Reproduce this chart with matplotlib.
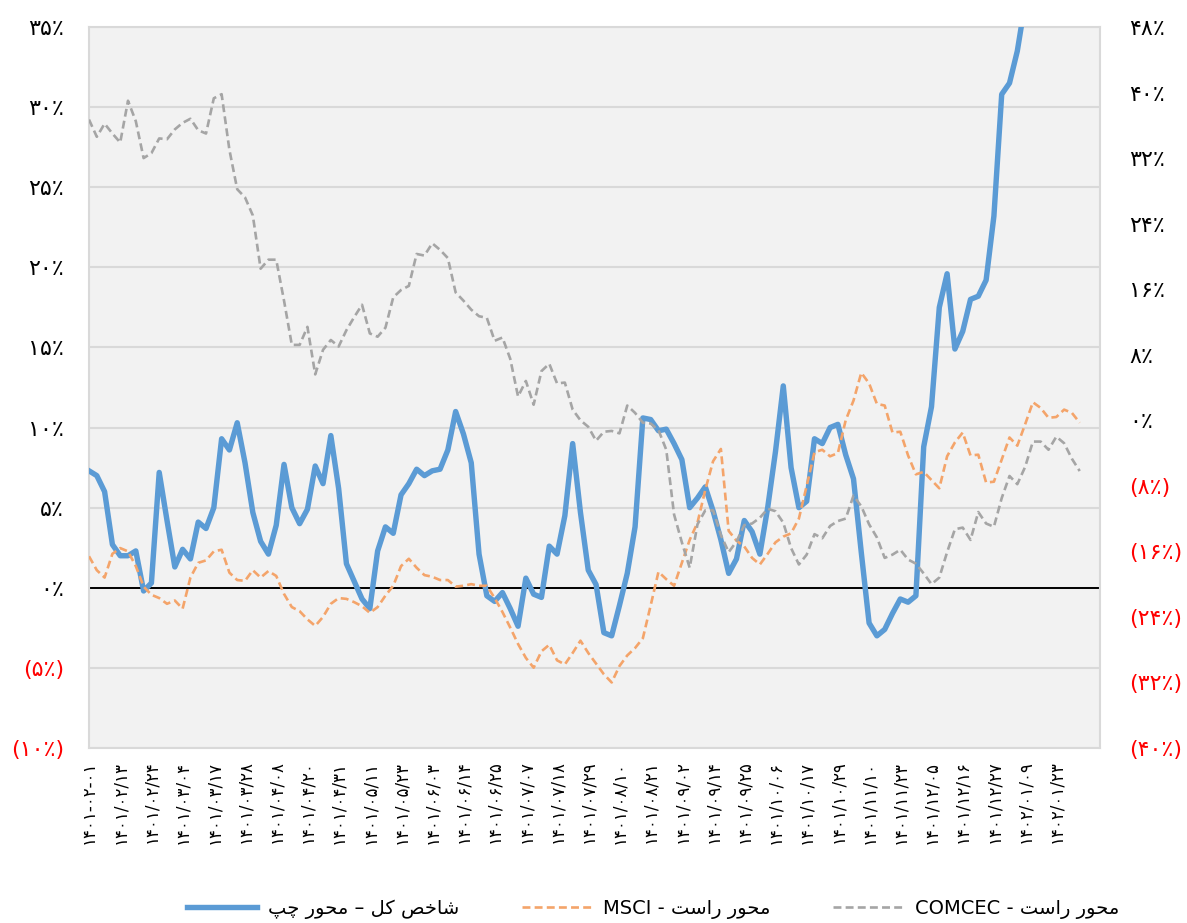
import matplotlib
matplotlib.use('Agg')
import matplotlib.pyplot as plt
from matplotlib.lines import Line2D

# ---------------- DATA ----------------
date_labels = ['۱۴۰۱-۰۲-۰۱', '۱۴۰۱/۰۲/۱۳', '۱۴۰۱/۰۲/۲۴', '۱۴۰۱/۰۳/۰۴', '۱۴۰۱/۰۳/۱۷',
               '۱۴۰۱/۰۳/۲۸', '۱۴۰۱/۰۴/۰۸', '۱۴۰۱/۰۴/۲۰', '۱۴۰۱/۰۴/۳۱', '۱۴۰۱/۰۵/۱۱',
               '۱۴۰۱/۰۵/۲۳', '۱۴۰۱/۰۶/۰۳', '۱۴۰۱/۰۶/۱۴', '۱۴۰۱/۰۶/۲۵', '۱۴۰۱/۰۷/۰۷',
               '۱۴۰۱/۰۷/۱۸', '۱۴۰۱/۰۷/۲۹', '۱۴۰۱/۰۸/۱۰', '۱۴۰۱/۰۸/۲۱', '۱۴۰۱/۰۹/۰۲',
               '۱۴۰۱/۰۹/۱۴', '۱۴۰۱/۰۹/۲۵', '۱۴۰۱/۱۰/۰۶', '۱۴۰۱/۱۰/۱۷', '۱۴۰۱/۱۰/۲۹',
               '۱۴۰۱/۱۱/۱۰', '۱۴۰۱/۱۱/۲۳', '۱۴۰۱/۱۲/۰۵', '۱۴۰۱/۱۲/۱۶', '۱۴۰۱/۱۲/۲۷',
               '۱۴۰۲/۰۱/۰۹', '۱۴۰۲/۰۱/۲۳']
label_step = 4          # one labelled date every 4 observations
n_slots = 129.6         # category slots spanned by the plot area

# TEDPIX (left axis, %)
tedpix = [7.3, 7.0, 6.0, 2.7, 2.0, 2.0, 2.3, -0.2, 0.3, 7.2,
          4.2, 1.3, 2.4, 1.8, 4.1, 3.7, 5.0, 9.3, 8.6, 10.3,
          7.8, 4.7, 2.9, 2.1, 3.9, 7.7, 5.0, 4.0, 4.9, 7.6,
          6.5, 9.5, 6.2, 1.5, 0.4, -0.7, -1.3, 2.3, 3.8, 3.4,
          5.8, 6.5, 7.4, 7.0, 7.3, 7.4, 8.6, 11.0, 9.6, 7.8,
          2.1, -0.5, -0.85, -0.3, -1.3, -2.4, 0.6, -0.4, -0.6, 2.6,
          2.1, 4.5, 9.0, 4.7, 1.1, 0.2, -2.8, -3.0, -1.1, 0.9,
          3.8, 10.6, 10.5, 9.8, 9.9, 9.0, 8.0, 5.0, 5.6, 6.3,
          4.8, 3.0, 0.9, 1.8, 4.2, 3.5, 2.1, 5.0, 8.5, 12.6,
          7.5, 5.0, 5.4, 9.3, 9.0, 10.0, 10.2, 8.3, 6.8, 2.2,
          -2.2, -3.0, -2.6, -1.6, -0.7, -0.9, -0.5, 8.8, 11.3, 17.5,
          19.6, 14.9, 16.0, 18.0, 18.2, 19.2, 23.2, 30.8, 31.5, 33.5,
          36.5, 38.0, 39.5, 41.0, 42.0, 43.5, 44.0, 45.0]

# MSCI (right axis, %)
msci = [-16.6, -18.3, -19.2, -16.3, -15.6, -16.0, -17.8, -20.3, -21.3, -21.7,
        -22.4, -22.0, -23.0, -19.2, -17.4, -17.1, -16.0, -15.8, -18.6, -19.5,
        -19.6, -18.3, -19.2, -18.4, -19.0, -21.2, -22.8, -23.3, -24.3, -25.1,
        -24.0, -22.4, -21.7, -21.8, -22.2, -22.7, -23.5, -22.8, -21.4, -20.2,
        -17.8, -16.9, -18.0, -18.9, -19.1, -19.5, -19.5, -20.3, -20.2, -20.0,
        -20.2, -20.2, -21.7, -23.4, -25.3, -27.3, -29.0, -30.2, -28.2, -27.4,
        -29.3, -29.8, -28.4, -26.9, -28.4, -29.7, -31.0, -32.0, -30.0, -28.7,
        -27.8, -26.6, -22.6, -18.5, -19.4, -20.2, -17.4, -14.6, -12.5, -8.5,
        -5.0, -3.5, -13.5, -14.7, -15.4, -16.8, -17.6, -16.3, -14.9, -14.2,
        -13.8, -12.0, -8.0, -3.9, -3.6, -4.4, -4.0, 0.0, 2.4, 5.8,
        4.5, 2.0, 1.8, -1.5, -1.4, -4.3, -6.6, -6.3, -7.3, -8.3,
        -4.4, -2.7, -1.5, -4.3, -4.2, -7.6, -7.5, -4.8, -2.1, -3.1,
        -0.5, 2.2, 1.5, 0.3, 0.4, 1.3, 0.9, -0.3]

# COMCEC (right axis, %)
comcec = [36.7, 34.6, 36.2, 35.0, 33.9, 39.0, 36.5, 32.0, 32.6, 34.4,
          34.3, 35.5, 36.3, 36.8, 35.4, 35.0, 39.3, 39.8, 33.0, 28.2,
          27.2, 25.0, 18.5, 19.6, 19.6, 14.6, 9.2, 9.2, 11.4, 5.6,
          8.6, 9.8, 9.0, 11.0, 12.6, 14.1, 10.6, 10.2, 11.3, 15.0,
          15.9, 16.4, 20.3, 20.1, 21.6, 20.8, 19.8, 15.6, 14.6, 13.5,
          12.7, 12.5, 9.7, 10.1, 7.5, 2.9, 4.8, 1.9, 6.0, 6.9,
          4.5, 4.6, 1.3, 0.0, -0.8, -2.5, -1.4, -1.3, -1.6, 1.8,
          0.9, -0.3, -0.4, -1.2, -3.6, -11.5, -14.9, -18.0, -12.7, -11.0,
          -11.0, -14.0, -16.1, -14.8, -12.8, -12.6, -11.9, -10.8, -11.1, -12.5,
          -15.6, -17.6, -16.4, -13.9, -14.4, -12.9, -12.3, -12.0, -9.2, -10.5,
          -12.7, -14.3, -16.8, -16.4, -15.8, -17.0, -17.5, -18.7, -20.0, -19.2,
          -16.1, -13.3, -13.1, -14.6, -11.2, -12.6, -13.0, -9.5, -6.8, -7.8,
          -5.7, -2.6, -2.6, -3.6, -2.0, -2.8, -4.7, -6.2]

left_ticks = [-10, -5, 0, 5, 10, 15, 20, 25, 30, 35]
right_ticks = [-40, -32, -24, -16, -8, 0, 8, 16, 24, 32, 40, 48]

name_tedpix = 'شاخص کل – محور چپ'
name_axis_right = 'محور راست'
name_msci = 'MSCI'
name_comcec = 'COMCEC'

# ---------------- helpers ----------------
FA_DIGITS = str.maketrans('0123456789', '۰۱۲۳۴۵۶۷۸۹')

FORMS = {  # isolated, final, initial, medial
    'ا': ('\uFE8D', '\uFE8E', None, None),
    'ت': ('\uFE95', '\uFE96', '\uFE97', '\uFE98'),
    'ح': ('\uFEA1', '\uFEA2', '\uFEA3', '\uFEA4'),
    'خ': ('\uFEA5', '\uFEA6', '\uFEA7', '\uFEA8'),
    'ر': ('\uFEAD', '\uFEAE', None, None),
    'س': ('\uFEB1', '\uFEB2', '\uFEB3', '\uFEB4'),
    'ش': ('\uFEB5', '\uFEB6', '\uFEB7', '\uFEB8'),
    'ص': ('\uFEB9', '\uFEBA', '\uFEBB', '\uFEBC'),
    'ل': ('\uFEDD', '\uFEDE', '\uFEDF', '\uFEE0'),
    'م': ('\uFEE1', '\uFEE2', '\uFEE3', '\uFEE4'),
    'و': ('\uFEED', '\uFEEE', None, None),
    'پ': ('\uFB56', '\uFB57', '\uFB58', '\uFB59'),
    'چ': ('\uFB7A', '\uFB7B', '\uFB7C', '\uFB7D'),
    'ک': ('\uFB8E', '\uFB8F', '\uFB90', '\uFB91'),
}


def rtl(text):
    """Shape Persian letters into presentation forms and put them in visual order."""
    out = []
    for i, ch in enumerate(text):
        f = FORMS.get(ch)
        if f is None:
            out.append(ch)
            continue
        prev = text[i - 1] if i > 0 else None
        nxt = text[i + 1] if i + 1 < len(text) else None
        jp = prev in FORMS and FORMS[prev][2] is not None
        jn = nxt in FORMS and f[2] is not None
        if jp and jn:
            g = f[3]
        elif jp:
            g = f[1]
        elif jn:
            g = f[2]
        else:
            g = f[0]
        out.append(g)
    return ''.join(out)[::-1]


def pct(v):
    s = (str(abs(v)) + '٪').translate(FA_DIGITS)
    return '(' + s + ')' if v < 0 else s


# ---------------- figure ----------------
plt.rcParams['font.family'] = ['DejaVu Sans']
W, H = 1187, 923
fig = plt.figure(figsize=(W / 100, H / 100), dpi=100)
L, R, T, B = 89, 1100, 27, 748
ax = fig.add_axes([L / W, 1 - B / H, (R - L) / W, (B - T) / H])
ax.set_facecolor('#F2F2F2')

x = list(range(len(tedpix)))
ax.set_xlim(0, n_slots)
ax.set_ylim(left_ticks[0], left_ticks[-1])
ax.set_yticks(left_ticks)
ax.set_yticklabels([pct(v) for v in left_ticks], fontsize=16)
for lbl, v in zip(ax.get_yticklabels(), left_ticks):
    lbl.set_color('#FF0000' if v < 0 else 'black')
ax.tick_params(axis='y', length=0, pad=18)
ax.yaxis.grid(True, color='#D9D9D9', lw=1.5)
ax.set_axisbelow(True)

ax.set_xticks(list(range(0, label_step * len(date_labels), label_step)))
ax.set_xticklabels(date_labels, rotation=90, fontsize=12, va='top', ha='center')
ax.tick_params(axis='x', length=0, pad=9)

for sp in ax.spines.values():
    sp.set_color('#D9D9D9')
    sp.set_linewidth(1.5)

ax.axhline(0, color='black', lw=1.4, zorder=2)
ax.plot(x, tedpix, color='#5B9BD5', lw=3.9, solid_joinstyle='round', zorder=3)

ax2 = ax.twinx()
ax2.set_ylim(right_ticks[0], right_ticks[-1])
ax2.set_yticks(right_ticks)
ax2.set_yticklabels([pct(v) for v in right_ticks], fontsize=16)
for lbl, v in zip(ax2.get_yticklabels(), right_ticks):
    lbl.set_color('#FF0000' if v < 0 else 'black')
ax2.tick_params(axis='y', length=0, pad=21)
for sp in ax2.spines.values():
    sp.set_visible(False)

ax2.plot(x, msci, color='#F4A46A', lw=1.9, ls=(0, (3, 1.6)))
ax2.plot(x, comcec, color='#A5A5A5', lw=1.9, ls=(0, (3, 1.6)))

handles = [Line2D([], [], color='#5B9BD5', lw=3.9),
           Line2D([], [], color='#F4A46A', lw=1.9, ls=(0, (3, 1.6))),
           Line2D([], [], color='#A5A5A5', lw=1.9, ls=(0, (3, 1.6)))]
labels = [rtl(name_tedpix),
          name_msci + ' - ' + rtl(name_axis_right),
          name_comcec + ' - ' + rtl(name_axis_right)]
fig.legend(handles, labels, loc='center', bbox_to_anchor=(0.55, 0.015), ncol=3,
           frameon=False, fontsize=14, handlelength=3.6, columnspacing=3.2,
           handletextpad=0.6)

fig.savefig('out.png', dpi=100, facecolor='white')
